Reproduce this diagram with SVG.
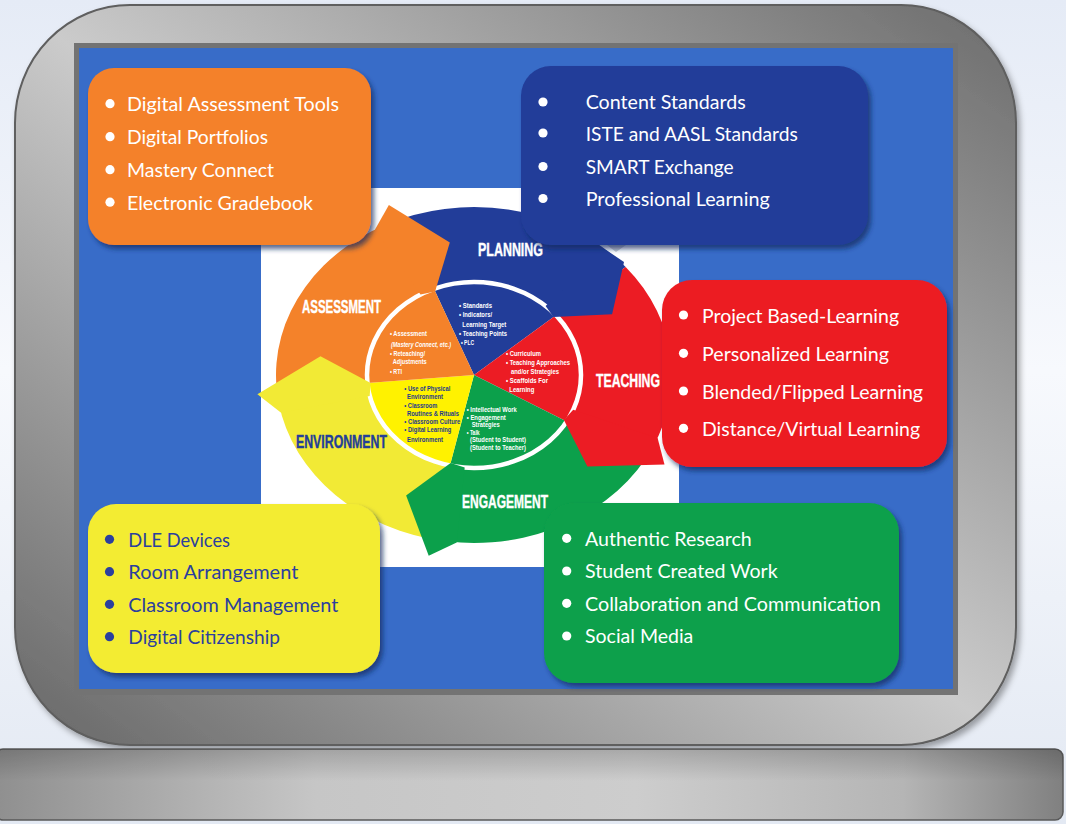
<svg xmlns="http://www.w3.org/2000/svg" width="1066" height="824" viewBox="0 0 1066 824">
<defs>
<linearGradient id="bg" x1="0" y1="0" x2="0" y2="1"><stop offset="0" stop-color="#e5ebf6"/><stop offset="0.45" stop-color="#f7f9fd"/><stop offset="1" stop-color="#e3e9f3"/></linearGradient>
<linearGradient id="body" x1="1" y1="0" x2="0" y2="1"><stop offset="0" stop-color="#6b6b6b"/><stop offset="0.5" stop-color="#cbcbcb"/><stop offset="1" stop-color="#666666"/></linearGradient>
<linearGradient id="base" x1="0" y1="0" x2="1" y2="0"><stop offset="0" stop-color="#8f8f8f"/><stop offset="0.3" stop-color="#c6c6c6"/><stop offset="0.6" stop-color="#cdcdcd"/><stop offset="0.85" stop-color="#b5b5b5"/><stop offset="1" stop-color="#808080"/></linearGradient>
<linearGradient id="baseTop" x1="0" y1="0" x2="0" y2="1"><stop offset="0" stop-color="#000" stop-opacity="0.18"/><stop offset="0.45" stop-color="#000" stop-opacity="0"/></linearGradient>
<filter id="sh" x="-10%" y="-10%" width="130%" height="130%"><feDropShadow dx="3" dy="4" stdDeviation="2.5" flood-color="#14265e" flood-opacity="0.7"/></filter>
<filter id="msh" x="-5%" y="-5%" width="110%" height="112%"><feDropShadow dx="3" dy="4" stdDeviation="3" flood-color="#000" flood-opacity="0.35"/></filter>
<style>
.bt{font-family:Lato,"Liberation Sans",sans-serif;font-size:19.5px;fill:#fff}
.bd{fill:#2b3f9e}
.lab{font-family:"Liberation Sans",Arial,sans-serif;font-weight:bold;font-size:18px;fill:#fff;stroke:#fff;stroke-width:0.4}
.in{font-family:"Liberation Sans",Arial,sans-serif;font-weight:bold;font-size:7.4px;fill:#fff}
.iy{fill:#1e3a8c}
.sm{font-size:6.8px}
</style>
</defs>
<rect x="0" y="0" width="1066" height="824" fill="url(#bg)"/>
<g id="monitor">
<rect x="15" y="5" width="1001" height="740" rx="115" ry="118" fill="url(#body)" stroke="#5e5e5e" stroke-width="2" filter="url(#msh)"/>
<rect x="74" y="43" width="884" height="652" fill="#737373"/>
<rect x="79" y="48" width="874" height="641" fill="#386cc8"/>
</g>
<g id="stand">
<rect x="-5" y="749" width="1068" height="71" rx="8" fill="url(#base)" stroke="#5a5a5a" stroke-width="1.5"/>
<rect x="-5" y="749" width="1068" height="71" rx="8" fill="url(#baseTop)"/>
</g>
<g id="cycle">
<rect x="261" y="188" width="418" height="379" fill="#ffffff"/>
<path d="M399.83 219.23 A198 168 0 0 1 625.67 267.01 L555.96 315.22 A107 93 0 0 0 433.92 288.77 Z" fill="#223d99"/>
<path d="M625.67 267.01 A198 168 0 0 1 645.47 459 L566.66 421.5 A107 93 0 0 0 555.96 315.22 Z" fill="#ec1c24"/>
<path d="M645.47 459 A198 168 0 0 1 429.45 538.7 L449.92 465.62 A107 93 0 0 0 566.66 421.5 Z" fill="#0ca04b"/>
<path d="M429.45 538.7 A198 168 0 0 1 276.75 389.65 L367.41 383.11 A107 93 0 0 0 449.92 465.62 Z" fill="#f2ea35"/>
<path d="M276.75 389.65 A198 168 0 0 1 399.83 219.23 L433.92 288.77 A107 93 0 0 0 367.41 383.11 Z" fill="#f4822a"/>
<path d="M474 375 L433.92 288.77 A107 93 0 0 1 555.96 315.22 Z" fill="#223d99"/>
<path d="M474 375 L555.96 315.22 A107 93 0 0 1 566.66 421.5 Z" fill="#ec1c24"/>
<path d="M474 375 L566.66 421.5 A107 93 0 0 1 449.92 465.62 Z" fill="#0ca04b"/>
<path d="M474 375 L449.92 465.62 A107 93 0 0 1 367.41 383.11 Z" fill="#fff200"/>
<path d="M474 375 L367.41 383.11 A107 93 0 0 1 433.92 288.77 Z" fill="#f4822a"/>
<ellipse cx="474" cy="375" rx="107" ry="93" fill="none" stroke="#ffffff" stroke-width="4.5"/>
<polygon points="375,229.5 388.9,204.9 449.8,242.6 435.1,291.4 420.5,294.5" fill="#f4822a"/>
<polygon points="606.5,250.2 624,262 612.1,314.2 553.5,317 545.6,305.9" fill="#223d99"/>
<polygon points="657.6,437.9 664.5,464.6 587.4,466.4 563.9,420.1 573.2,409.8" fill="#ec1c24"/>
<polygon points="456.7,542.4 428.7,555.8 406.1,495.4 450.6,462.9 464.7,467.6" fill="#0ca04b"/>
<polygon points="281.1,412.8 257.4,394.3 320.5,356.3 370.6,382.9 369.7,395.9" fill="#f2ea35"/>
<polygon points="607,245 626,245 616,252" fill="#c9cbd3"/>
<text class="lab" x="478" y="256" textLength="65" lengthAdjust="spacingAndGlyphs">PLANNING</text>
<text class="lab" x="302" y="313" textLength="79" lengthAdjust="spacingAndGlyphs">ASSESSMENT</text>
<text class="lab" x="596" y="387" textLength="64" lengthAdjust="spacingAndGlyphs">TEACHING</text>
<text class="lab" x="296" y="448" textLength="91" lengthAdjust="spacingAndGlyphs" style="fill:#233e99;stroke:#233e99">ENVIRONMENT</text>
<text class="lab" x="462" y="508" textLength="86" lengthAdjust="spacingAndGlyphs">ENGAGEMENT</text>
<text class="in" x="459" y="308" textLength="33" lengthAdjust="spacingAndGlyphs">• Standards</text>
<text class="in" x="459" y="317" textLength="33" lengthAdjust="spacingAndGlyphs">• Indicators/</text>
<text class="in" x="462.3" y="326.5" textLength="44" lengthAdjust="spacingAndGlyphs">Learning Target</text>
<text class="in" x="459" y="336" textLength="48" lengthAdjust="spacingAndGlyphs">• Teaching Points</text>
<text class="in" x="461" y="344.5" textLength="13" lengthAdjust="spacingAndGlyphs">• PLC</text>
<text class="in" x="390" y="336" textLength="37" lengthAdjust="spacingAndGlyphs">• Assessment</text>
<text class="in sm" x="391" y="346.5" textLength="60" lengthAdjust="spacingAndGlyphs" font-style="italic">(Mastery Connect, etc.)</text>
<text class="in sm" x="390" y="356" textLength="35" lengthAdjust="spacingAndGlyphs">• Reteaching/</text>
<text class="in sm" x="392.7" y="363.5" textLength="34" lengthAdjust="spacingAndGlyphs">Adjustments</text>
<text class="in" x="390" y="374" textLength="12" lengthAdjust="spacingAndGlyphs">• RTI</text>
<text class="in" x="506" y="356" textLength="35" lengthAdjust="spacingAndGlyphs">• Curriculum</text>
<text class="in" x="506" y="365" textLength="64" lengthAdjust="spacingAndGlyphs">• Teaching Approaches</text>
<text class="in" x="511" y="374" textLength="48" lengthAdjust="spacingAndGlyphs">and/or Strategies</text>
<text class="in" x="506" y="383" textLength="42" lengthAdjust="spacingAndGlyphs">• Scaffolds For</text>
<text class="in" x="509.3" y="392" textLength="25" lengthAdjust="spacingAndGlyphs">Learning</text>
<text class="in iy sm" x="404.3" y="391" textLength="46" lengthAdjust="spacingAndGlyphs">• Use of Physical</text>
<text class="in iy sm" x="407" y="399.3" textLength="36" lengthAdjust="spacingAndGlyphs">Environment</text>
<text class="in iy sm" x="404.3" y="407.6" textLength="33" lengthAdjust="spacingAndGlyphs">• Classroom</text>
<text class="in iy sm" x="407" y="415.9" textLength="52" lengthAdjust="spacingAndGlyphs">Routines &amp; Rituals</text>
<text class="in iy sm" x="404.3" y="424.2" textLength="56" lengthAdjust="spacingAndGlyphs">• Classroom Culture</text>
<text class="in iy sm" x="404.3" y="432.3" textLength="47" lengthAdjust="spacingAndGlyphs">• Digital Learning</text>
<text class="in iy sm" x="407" y="441.5" textLength="36" lengthAdjust="spacingAndGlyphs">Environment</text>
<text class="in sm" x="466.7" y="412" textLength="50" lengthAdjust="spacingAndGlyphs">• Intellectual Work</text>
<text class="in sm" x="466.7" y="419.5" textLength="39" lengthAdjust="spacingAndGlyphs">• Engagement</text>
<text class="in sm" x="471.7" y="427" textLength="28" lengthAdjust="spacingAndGlyphs">Strategies</text>
<text class="in sm" x="466.7" y="434.5" textLength="13" lengthAdjust="spacingAndGlyphs">• Talk</text>
<text class="in sm" x="470" y="442" textLength="56" lengthAdjust="spacingAndGlyphs">(Student to Student)</text>
<text class="in sm" x="470" y="449.5" textLength="56" lengthAdjust="spacingAndGlyphs">(Student to Teacher)</text>
</g>
<g id="assessment-box">
<rect x="88" y="68" width="283" height="177" rx="26" fill="#f4812a" filter="url(#sh)"/>
<g fill="#fff"><circle cx="110" cy="103.7" r="4.6"/><circle cx="110" cy="136.7" r="4.6"/><circle cx="110" cy="169.7" r="4.6"/><circle cx="110" cy="202.2" r="4.6"/></g>
<text class="bt" x="127" y="111" textLength="212" lengthAdjust="spacingAndGlyphs">Digital Assessment Tools</text>
<text class="bt" x="127" y="144" textLength="141" lengthAdjust="spacingAndGlyphs">Digital Portfolios</text>
<text class="bt" x="127" y="177" textLength="147" lengthAdjust="spacingAndGlyphs">Mastery Connect</text>
<text class="bt" x="127" y="209.5" textLength="186" lengthAdjust="spacingAndGlyphs">Electronic Gradebook</text>
</g>
<g id="planning-box">
<rect x="521" y="66" width="347" height="179" rx="30" fill="#223d99" filter="url(#sh)"/>
<g fill="#fff"><circle cx="543" cy="102" r="4.6"/><circle cx="543" cy="133" r="4.6"/><circle cx="543" cy="166.5" r="4.6"/><circle cx="543" cy="198.5" r="4.6"/></g>
<text class="bt" x="585.7" y="109.3" textLength="160" lengthAdjust="spacingAndGlyphs">Content Standards</text>
<text class="bt" x="585.7" y="141" textLength="212" lengthAdjust="spacingAndGlyphs">ISTE and AASL Standards</text>
<text class="bt" x="585.7" y="173.7" textLength="148" lengthAdjust="spacingAndGlyphs">SMART Exchange</text>
<text class="bt" x="585.7" y="205.7" textLength="184" lengthAdjust="spacingAndGlyphs">Professional Learning</text>
</g>
<g id="teaching-box">
<rect x="662" y="280" width="285" height="187" rx="30" fill="#ec1c24" filter="url(#sh)"/>
<g fill="#fff"><circle cx="683.5" cy="315" r="4.6"/><circle cx="683.5" cy="353.3" r="4.6"/><circle cx="683.5" cy="391" r="4.6"/><circle cx="683.5" cy="428.3" r="4.6"/></g>
<text class="bt" x="702" y="323.3" textLength="197" lengthAdjust="spacingAndGlyphs">Project Based-Learning</text>
<text class="bt" x="702" y="361" textLength="187" lengthAdjust="spacingAndGlyphs">Personalized Learning</text>
<text class="bt" x="702" y="399.3" textLength="221" lengthAdjust="spacingAndGlyphs">Blended/Flipped Learning</text>
<text class="bt" x="702" y="435.7" textLength="218" lengthAdjust="spacingAndGlyphs">Distance/Virtual Learning</text>
</g>
<g id="environment-box">
<rect x="88" y="504" width="292" height="169" rx="28" fill="#f3ec33" filter="url(#sh)"/>
<g fill="#2b3f9e"><circle cx="109.5" cy="539.3" r="4.6"/><circle cx="109.5" cy="571.7" r="4.6"/><circle cx="109.5" cy="604.3" r="4.6"/><circle cx="109.5" cy="636.7" r="4.6"/></g>
<text class="bt bd" x="128.3" y="546.7" textLength="101.7" lengthAdjust="spacingAndGlyphs">DLE Devices</text>
<text class="bt bd" x="128.3" y="579" textLength="170" lengthAdjust="spacingAndGlyphs">Room Arrangement</text>
<text class="bt bd" x="128.3" y="611.7" textLength="210" lengthAdjust="spacingAndGlyphs">Classroom Management</text>
<text class="bt bd" x="128.3" y="644.3" textLength="151.7" lengthAdjust="spacingAndGlyphs">Digital Citizenship</text>
</g>
<g id="engagement-box">
<rect x="544" y="503" width="355" height="180" rx="30" fill="#0ca04b" filter="url(#sh)"/>
<g fill="#fff"><circle cx="566.7" cy="538.3" r="4.6"/><circle cx="566.7" cy="571" r="4.6"/><circle cx="566.7" cy="603.3" r="4.6"/><circle cx="566.7" cy="636" r="4.6"/></g>
<text class="bt" x="585" y="545.7" textLength="166.7" lengthAdjust="spacingAndGlyphs">Authentic Research</text>
<text class="bt" x="585" y="578.3" textLength="192.7" lengthAdjust="spacingAndGlyphs">Student Created Work</text>
<text class="bt" x="585" y="611" textLength="295.7" lengthAdjust="spacingAndGlyphs">Collaboration and Communication</text>
<text class="bt" x="585" y="643.3" textLength="108.3" lengthAdjust="spacingAndGlyphs">Social Media</text>
</g>
<g id="connectors"/>
</svg>
